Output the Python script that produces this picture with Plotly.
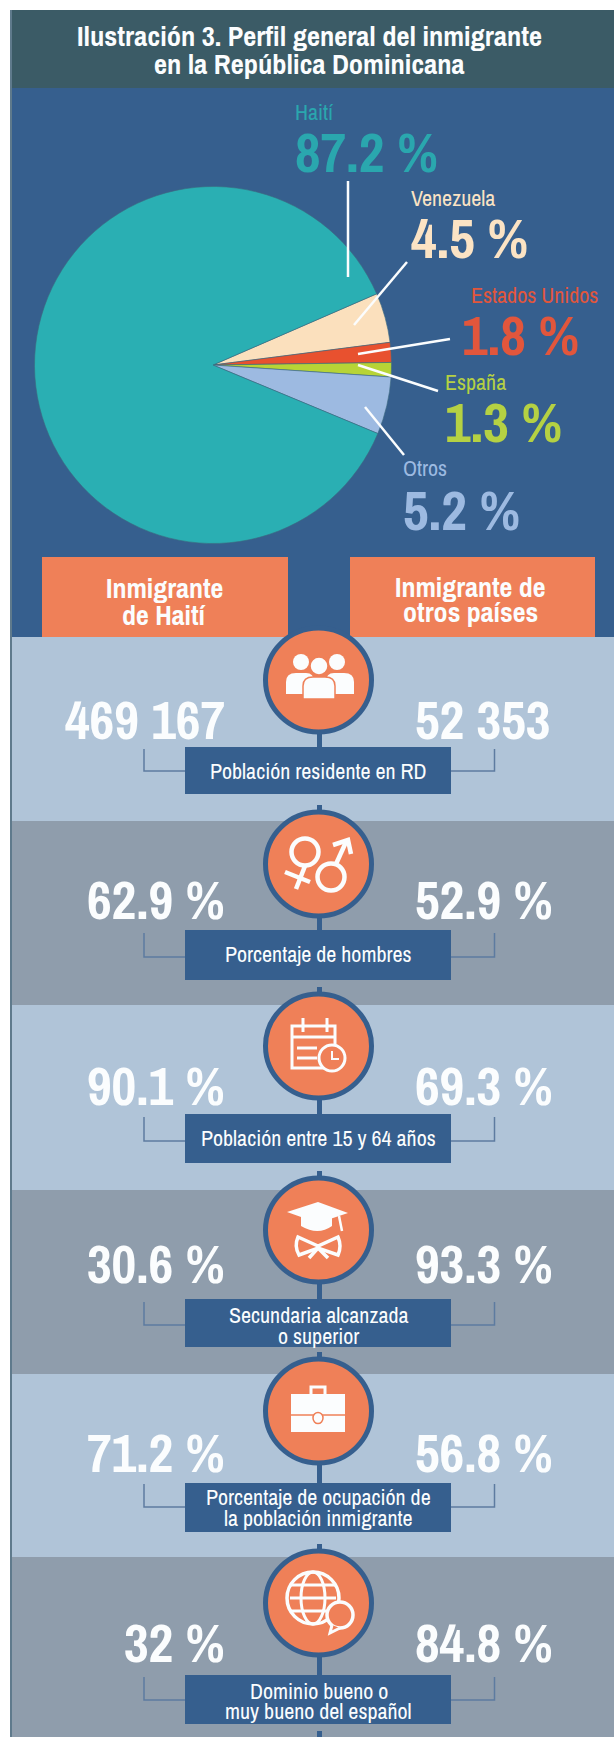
import plotly.graph_objects as go

W, H = 614, 1737

# ---- data ----
pie_labels = ["Venezuela", "Estados Unidos", "España", "Otros", "Haití"]
pie_values = [4.5, 1.8, 1.3, 5.2, 87.2]
row_labels = [
    ["Población residente en RD"],
    ["Porcentaje de hombres"],
    ["Población entre 15 y 64 años"],
    ["Secundaria alcanzada", "o superior"],
    ["Porcentaje de ocupación de", "la población inmigrante"],
    ["Dominio bueno o", "muy bueno del español"],
]
haiti_values = [469167, 62.9, 90.1, 30.6, 71.2, 32]
otros_values = [52353, 52.9, 69.3, 93.3, 56.8, 84.8]
title_lines = ["Ilustración 3. Perfil general del inmigrante", "en la República Dominicana"]
left_head = ["Inmigrante", "de Haití"]
right_head = ["Inmigrante de", "otros países"]

# ---- styles ----
FONT = "Archivo Narrow, Roboto Condensed, Liberation Sans, sans-serif"
WHITE = "#fbfdfe"
HEADER = "#3b5b66"
BLUE = "#365f8e"
LIGHT = "#b0c4d8"
DARK = "#8f9dac"
ORANGE = "#ef8058"
SLICE = {"Haití": "#2aafb3", "Venezuela": "#fbe0bd", "Estados Unidos": "#e8512f",
         "España": "#b7d436", "Otros": "#9dbae1"}
TEXTC = {"Haití": "#2aa7ae", "Venezuela": "#fbe3c4", "Estados Unidos": "#e2563c",
         "España": "#b5d143", "Otros": "#9dbae1"}

# ---- layout geometry (pixels) ----
band_edges = [637, 821, 1005, 1190, 1374, 1557, 1737]
circle_y = [680, 864, 1046, 1230, 1411, 1603]
value_y = [719, 899, 1085.5, 1263, 1452, 1642]
box_top = [747, 930, 1114, 1299, 1483, 1675]
box_bot = [794, 980, 1163, 1347, 1532, 1724]
bracket_top = [749, 933, 1117, 1302, 1484, 1677]
bracket_mid = [771, 957, 1141, 1325, 1507, 1700]
label_lines_y = [[771], [954], [1138], [1315, 1336], [1497, 1518], [1691, 1711]]
icon_y0 = [630, 814, 996, 1180, 1361, 1553]
CX, RX, RY = 318.5, 53, 52
pie_cx, pie_cy, pie_r = 213, 365, 178.5
pie_text = {  # name: (x, name y, value y)
    "Haití": (294, 112, 151),
    "Venezuela": (410, 198, 237),
    "Estados Unidos": (461, 295, 334),
    "España": (444, 382, 421),
    "Otros": (402, 468, 509),
}
pie_name_x_offset = {"Estados Unidos": 9}
leaders = [(348, 181, 348, 277), (407, 262, 354, 325), (450, 339, 358, 354),
           (438, 391, 358, 365), (404, 455, 365, 407)]

shapes, annots = [], []


def rect(x0, y0, x1, y1, fill, layer="below"):
    shapes.append(dict(type="rect", xref="x", yref="y", x0=x0, y0=y0, x1=x1, y1=y1,
                       fillcolor=fill, line_width=0, layer=layer))


def line(x0, y0, x1, y1, color=WHITE, width=2.5, layer="above"):
    shapes.append(dict(type="line", xref="x", yref="y", x0=x0, y0=y0, x1=x1, y1=y1,
                       line=dict(color=color, width=width), layer=layer))


def ell(cx, cy, rx, ry, fill=None, stroke=None, width=0, layer="above"):
    shapes.append(dict(type="circle", xref="x", yref="y", x0=cx - rx, x1=cx + rx, y0=cy - ry, y1=cy + ry,
                       fillcolor=fill or "rgba(0,0,0,0)",
                       line=dict(color=stroke or "rgba(0,0,0,0)", width=width), layer=layer))


def path(points, ox, oy, fill=None, stroke=None, width=0):
    """points: SVG path commands in icon-local coordinates."""
    out = []
    for tok in points.split():
        if "," in tok:
            a, b = tok.split(",")
            out.append(f"{float(a) + ox:.2f},{float(b) + oy:.2f}")
        else:
            out.append(tok)
    shapes.append(dict(type="path", xref="x", yref="y", path=" ".join(out),
                       fillcolor=fill or "rgba(0,0,0,0)",
                       line=dict(color=stroke or "rgba(0,0,0,0)", width=width), layer="above"))


def text(x, y, s, size, color=WHITE, bold=True, anchor="center"):
    annots.append(dict(xref="x", yref="y", x=x, y=y, text=f"<b>{s}</b>" if bold else s, showarrow=False,
                       xanchor=anchor, yanchor="middle", align=anchor, borderpad=0,
                       font=dict(family=FONT, size=size, color=color)))


def fmt(v):
    return f"{v:,}".replace(",", " ") if v > 1000 else f"{v} %"


# ---- backgrounds ----
rect(10, 10, W, 88, HEADER)
rect(10, 88, W, band_edges[0], BLUE)
for i in range(6):
    rect(10, band_edges[i], W, band_edges[i + 1], LIGHT if i % 2 == 0 else DARK)
rect(10, 10, 12, H, "#5f7a8c")
rect(42, 557, 288, 637, ORANGE)
rect(350, 557, 595, 637, ORANGE)

# ---- header texts ----
for y, s in zip([36, 64], title_lines):
    text(309, y, s, 28.5)
for y, s in zip([588, 615], left_head):
    text(164, y, s, 28)
for y, s in zip([587, 612], right_head):
    text(470, y, s, 28)

# ---- pie labels and leaders ----
for name, val in zip(pie_labels, pie_values):
    x, yn, yv = pie_text[name]
    text(x + pie_name_x_offset.get(name, 0), yn, name, 22, TEXTC[name], bold=False, anchor="left")
    text(x, yv, fmt(val), 56, TEXTC[name], anchor="left")
for x0, y0, x1, y1 in leaders:
    line(x0, y0, x1, y1)

# ---- rows ----
for i in range(6):
    if i > 0:
        line(CX + 1, circle_y[i] - RY - 7, CX + 1, circle_y[i] - RY + 2, BLUE, 5)
    line(CX + 1, circle_y[i] + RY - 2, CX + 1, box_top[i], BLUE, 5)
    bc = "#5d7ba0"
    path(f"M 144,{bracket_top[i]} L 144,{bracket_mid[i]} L 185,{bracket_mid[i]}", 0, 0, None, bc, 1.5)
    path(f"M 494.5,{bracket_top[i]} L 494.5,{bracket_mid[i]} L 451,{bracket_mid[i]}", 0, 0, None, bc, 1.5)
    rect(185, box_top[i], 451, box_bot[i], BLUE, layer="above")
    for y, s in zip(label_lines_y[i], row_labels[i]):
        text(CX, y, s, 22, WHITE, bold=False)
    text(226, value_y[i], fmt(haiti_values[i]), 54, anchor="right")
    text(414, value_y[i], fmt(otros_values[i]), 54, anchor="left")
    ell(CX, circle_y[i], RX, RY, ORANGE, BLUE, 5)
line(CX + 1, 1731, CX + 1, 1737, BLUE, 5)

# ---- icons (local coordinates in a 100x100 cell) ----
ox = 268
# people
oy = icon_y0[0]
for cx in (33, 69):
    ell(ox + cx, oy + 32, 8, 8, WHITE)
path("M 18,64 L 18,52 Q 18,43 28,43 L 38,43 Q 46,43 46,52 L 46,64 Z", ox, oy, WHITE)
path("M 58,64 L 58,52 Q 58,43 66,43 L 76,43 Q 86,43 86,52 L 86,64 Z", ox, oy, WHITE)
ell(ox + 51, oy + 36, 9, 9, WHITE, ORANGE, 1.5)
path("M 35,69 L 35,56 Q 35,47 45,47 L 57,47 Q 67,47 67,56 L 67,69 Z", ox, oy, WHITE, ORANGE, 1.5)
# gender
oy = icon_y0[1]
ell(ox + 37, oy + 38, 13.5, 13.5, None, WHITE, 4.5)
path("M 37,52 L 28,75", ox, oy, None, WHITE, 4.5)
path("M 17,58 L 42,68", ox, oy, None, WHITE, 4.5)
ell(ox + 63, oy + 63, 13.5, 13.5, None, WHITE, 4.5)
path("M 68,50 L 78,28", ox, oy, None, WHITE, 4.5)
path("M 65,31 L 80,26 L 83,40", ox, oy, None, WHITE, 4.5)
# calendar
oy = icon_y0[2]
path("M 24,30 L 67,30 L 67,72 L 24,72 Z", ox, oy, None, WHITE, 3)
path("M 24,41 L 67,41", ox, oy, None, WHITE, 3)
path("M 35,22 L 35,36", ox, oy, None, WHITE, 3)
path("M 59,22 L 59,36", ox, oy, None, WHITE, 3)
path("M 29,52 L 49,52", ox, oy, None, WHITE, 3)
path("M 29,62 L 49,62", ox, oy, None, WHITE, 3)
ell(ox + 64, oy + 62, 13, 13, ORANGE, WHITE, 3)
path("M 64,55 L 64,63 L 71,63", ox, oy, None, WHITE, 2)
# graduation cap
oy = icon_y0[3]
path("M 33,34 L 33,46 Q 50,56 64,46 L 64,34 Z", ox, oy, WHITE)
path("M 19,32 L 50,22 L 80,33 L 50,43 Z", ox, oy, WHITE)
path("M 71,36 L 74,51", ox, oy, None, WHITE, 2.5)
path("M 50,66 L 30,57 Q 26,66 31,75 L 50,68 L 70,75 Q 74,66 70,57 Z", ox, oy, None, WHITE, 3.5)
path("M 50,68 L 41,78", ox, oy, None, WHITE, 3.5)
path("M 50,68 L 60,78", ox, oy, None, WHITE, 3.5)
# briefcase
oy = icon_y0[4]
path("M 43,33 L 43,26 L 57,26 L 57,33", ox, oy, None, WHITE, 3)
path("M 23,33 L 77,33 L 77,71 L 23,71 Z", ox, oy, WHITE)
path("M 23,54 L 77,54", ox, oy, None, ORANGE, 1.5)
ell(ox + 50, oy + 57, 5, 5.5, WHITE, ORANGE, 1.5)
# globe with speech bubble
oy = icon_y0[5]
ell(ox + 45, oy + 45, 26, 26, None, WHITE, 3.5)
ell(ox + 45, oy + 45, 12, 26, None, WHITE, 3)
for yy in (32, 45, 58):
    path(f"M 22,{yy} L 68,{yy}", ox, oy, None, WHITE, 3)
ell(ox + 72, oy + 62, 13, 13, ORANGE, WHITE, 3.5)
path("M 64,72 L 62,80 L 72,75", ox, oy, ORANGE, WHITE, 3)

# ---- figure ----
fig = go.Figure()
fig.add_trace(go.Scatter(x=[0, W], y=[0, H], mode="markers", marker=dict(size=1, opacity=0),
                         hoverinfo="skip", showlegend=False))
fig.add_trace(go.Pie(
    labels=pie_labels, values=pie_values, sort=False, direction="clockwise", rotation=66.5,
    textinfo="none", hoverinfo="label+percent", showlegend=False,
    marker=dict(colors=[SLICE[n] for n in pie_labels], line=dict(color="#3d6a80", width=0.6)),
    domain=dict(x=[(pie_cx - pie_r) / W, (pie_cx + pie_r) / W],
                y=[1 - (pie_cy + pie_r) / H, 1 - (pie_cy - pie_r) / H]),
))
fig.update_layout(
    width=W, height=H, margin=dict(l=0, r=0, t=0, b=0), autosize=False,
    paper_bgcolor="white", plot_bgcolor="white",
    xaxis=dict(range=[0, W], visible=False, fixedrange=True),
    yaxis=dict(range=[H, 0], visible=False, fixedrange=True),
    shapes=shapes, annotations=annots,
)
fig.write_html("out.html", config=dict(displayModeBar=False),
               post_script="document.body.style.margin='0';document.documentElement.style.overflow='hidden';")
